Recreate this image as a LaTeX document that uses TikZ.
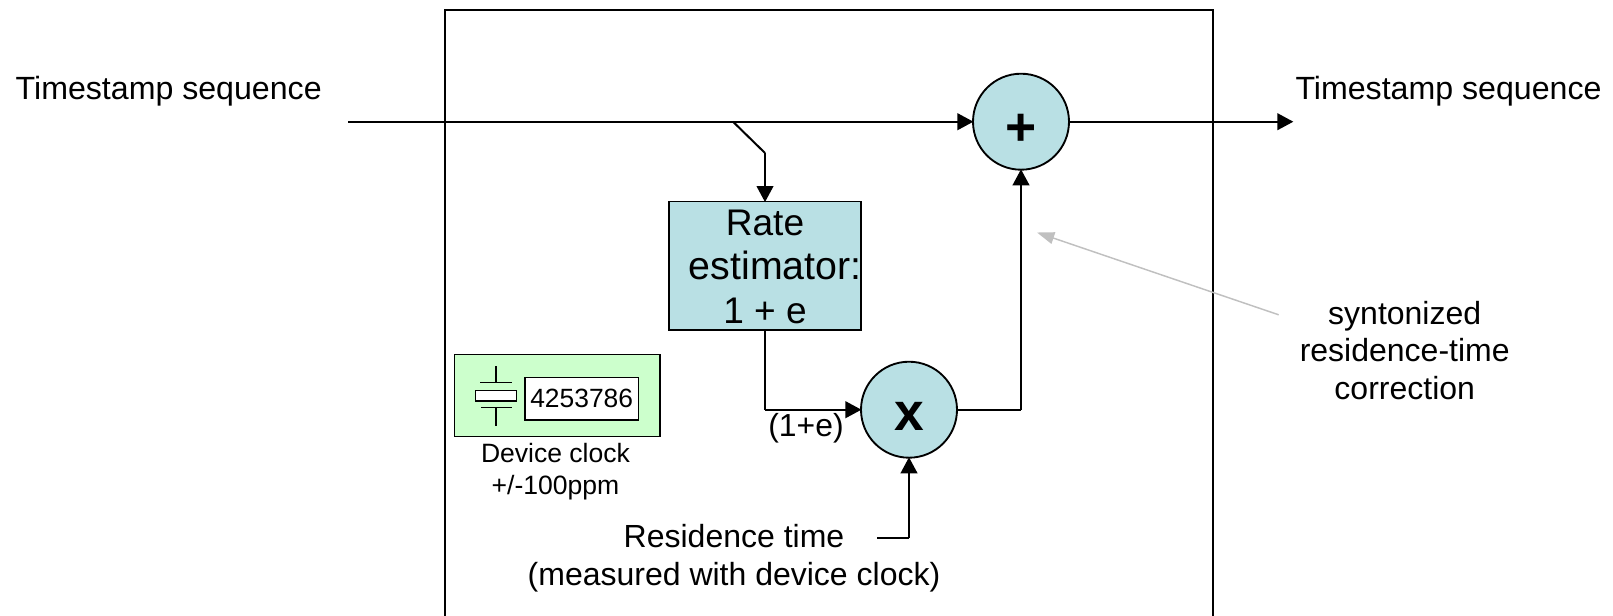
\documentclass[tikz,border=0pt]{standalone}
\usepackage{fontspec}
\setmainfont{Liberation Sans}
\usetikzlibrary{arrows.meta}
\definecolor{blk}{HTML}{B9E0E4}
\definecolor{grn}{HTML}{CCFFCC}
\definecolor{gry}{HTML}{C0C0C0}
\tikzset{
  wire/.style={line width=1.5pt,draw=black},
  arr/.style={wire,-{Triangle[length=12pt,width=12.5pt]},shorten >=-1pt},
  lbl/.style={inner sep=0pt,align=center,font=\fontsize{24.1}{28}\selectfont},
  sumcirc/.style={circle,draw=black,line width=1.4pt,fill=blk,minimum size=72pt,inner sep=0pt},
  opsym/.style={inner sep=0pt,font=\fontsize{40}{40}\bfseries\selectfont},
  ratebox/.style={rectangle,draw=black,line width=1.1pt,fill=blk,minimum width=144pt,minimum height=96.5pt,inner sep=0pt},
  part/.style={line width=1.1pt,draw=black},
}
\begin{document}
\begin{tikzpicture}[x=0.75pt,y=-0.75pt]
\useasboundingbox (0,0) rectangle (1613,615);
% frame
\coordinate (fa) at (445,616);
\coordinate (fb) at (445,10);
\coordinate (fc) at (1213,10);
\coordinate (fd) at (1213,616);
\draw[line width=1.4pt] (fa) -- (fb) -- (fc) -- (fd);
% main blocks
\node[sumcirc] (plus) at (1021,121.7) {};
\node[opsym] (plussym) at (1021,130) {+};
\node[sumcirc] (mult) at (909,409.7) {};
\node[opsym] (multsym) at (909,416) {x};
\node[ratebox] (rate) at (765,265.8) {};
\node[inner sep=0pt,align=center,font=\fontsize{27.8}{33}\selectfont] (ratetxt) at (765,267) {Rate\\\hspace*{15.4pt}{\fontsize{29.5}{33}\selectfont estimator:}\\1 + e};
% clock
\node[rectangle,draw=black,line width=1.1pt,fill=grn,minimum width=154pt,minimum height=61.8pt,inner sep=0pt] (clk) at (557.3,395.5) {};
\node[rectangle,draw=black,line width=1.1pt,fill=white,minimum width=85pt,minimum height=31.7pt,inner sep=0pt,font=\fontsize{19.8}{20}\selectfont] (cnt) at (581.7,398.8) {4253786};
\node[rectangle,draw=black,line width=1.1pt,fill=white,minimum width=30.7pt,minimum height=7.7pt,inner sep=0pt] (xtal) at (496,395.8) {};
\coordinate (p1) at (496,366);
\coordinate (p2) at (496,382.7);
\coordinate (p3) at (480,382.7);
\coordinate (p4) at (512,382.7);
\coordinate (p5) at (496,407.3);
\coordinate (p6) at (496,425.7);
\coordinate (p7) at (481,407.3);
\coordinate (p8) at (512,407.3);
\draw[part] (p1) -- (p2);
\draw[part] (p3) -- (p4);
\draw[part] (p5) -- (p6);
\draw[part] (p7) -- (p8);
% labels
\node[lbl] (tsl) at (168.7,91) {Timestamp sequence};
\node[lbl] (tsr) at (1448.5,91) {Timestamp sequence};
\node[lbl,font=\fontsize{19.9}{23.5}\selectfont] (clklbl) at (555.5,471.5) {Device clock\\+/-100ppm};
\node[lbl,font=\fontsize{23.9}{24}\selectfont] (oneplus) at (806,428) {(1+e)};
\node[lbl,font=\fontsize{24}{28.4}\selectfont] (res) at (734,558.5) {Residence time\\(measured with device clock)};
\node[lbl,font=\fontsize{24}{28.4}\selectfont] (syn) at (1404.7,350.5) {syntonized\\residence-time\\correction};
% connectors
\coordinate (in) at (348,121.7);
\coordinate (out) at (1292,121.7);
\coordinate (br) at (733,121.7);
\coordinate (brb) at (765,153);
\coordinate (rc) at (765,409.7);
\coordinate (mc) at (1021,409.7);
\coordinate (resa) at (877,537.7);
\coordinate (resb) at (909,537.7);
\coordinate (ga) at (1278.7,314.8);
\coordinate (gb) at (1037,232.5);
\draw[arr] (in) -- (plus.west);
\draw[arr] (plus.east) -- (out);
\draw[wire] (br) -- (brb);
\draw[arr] (brb) -- (rate.north -| brb);
\draw[wire] (rate.south) -- (rc);
\draw[arr] (rc) -- (mult.west);
\draw[wire] (mult.east) -- (mc);
\draw[arr] (mc) -- (plus.south);
\draw[wire] (resa) -- (resb);
\draw[arr] (resb) -- (mult.south);
\draw[line width=1.1pt,draw=gry,-{Triangle[length=13pt,width=9pt,fill=gry]}] (ga) -- (gb);
\end{tikzpicture}
\end{document}
